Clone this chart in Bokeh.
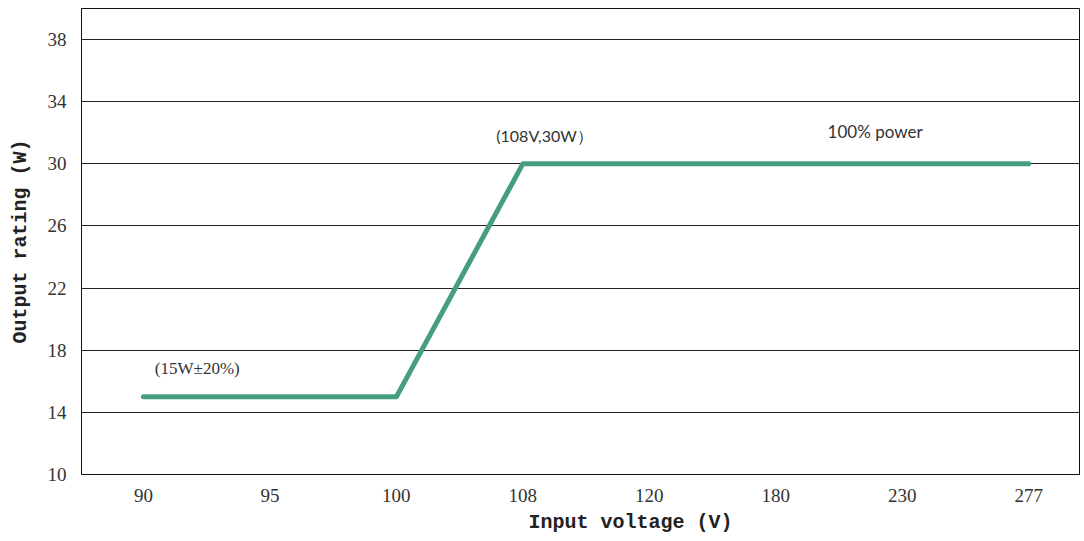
from bokeh.plotting import figure
from bokeh.models import FixedTicker, Label, Title, Range1d
from bokeh.embed import file_html
from bokeh.resources import INLINE

# ---- data ----
voltage_labels = ["90", "95", "100", "108", "120", "180", "230", "277"]
line_voltages = ["90", "100", "108", "277"]
line_power = [15, 15, 30, 30]
y_ticks = [10, 14, 18, 22, 26, 30, 34, 38]

x_pos = [voltage_labels.index(v) for v in line_voltages]

p = figure(frame_width=999, frame_height=466,
           x_range=Range1d(-0.49, 7.41), y_range=Range1d(10, 40),
           output_backend="svg", toolbar_location=None,
           min_border_left=81, min_border_top=8, min_border_right=0,
           min_border_bottom=0)

p.background_fill_color = "white"
p.border_fill_color = "white"
p.outline_line_color = "#111111"
p.outline_line_width = 1

# grid
p.xgrid.visible = False
p.ygrid.ticker = FixedTicker(ticks=y_ticks)
p.ygrid.grid_line_color = "#222222"
p.ygrid.grid_line_width = 1

# x axis
p.xaxis.ticker = FixedTicker(ticks=list(range(len(voltage_labels))))
p.xaxis.major_label_overrides = {i: lab for i, lab in enumerate(voltage_labels)}
p.xaxis.major_tick_out = 0
p.xaxis.major_tick_in = 0
p.xaxis.minor_tick_out = 0
p.xaxis.minor_tick_in = 0
p.xaxis.axis_line_color = "#111111"
p.xaxis.major_label_standoff = 14
p.xaxis.major_label_text_font = "Liberation Serif"
p.xaxis.major_label_text_font_size = "19px"
p.xaxis.major_label_text_color = "#333333"

# y axis
p.yaxis.ticker = FixedTicker(ticks=y_ticks)
p.yaxis.major_tick_out = 0
p.yaxis.major_tick_in = 0
p.yaxis.minor_tick_out = 0
p.yaxis.minor_tick_in = 0
p.yaxis.axis_line_color = "#111111"
p.yaxis.major_label_standoff = 15
p.yaxis.major_label_text_font = "Liberation Serif"
p.yaxis.major_label_text_font_size = "19px"
p.yaxis.major_label_text_color = "#333333"
p.yaxis.axis_label = "Output rating (W)"
p.yaxis.axis_label_text_font = "Liberation Mono"
p.yaxis.axis_label_text_font_size = "20px"
p.yaxis.axis_label_text_font_style = "bold"
p.yaxis.axis_label_text_color = "#222222"
p.yaxis.axis_label_standoff = 13

# x axis title (offset to the right as in the reference)
p.add_layout(Title(text="Input voltage (V)", align="left", offset=447,
                   text_font="Liberation Mono", text_font_size="20px",
                   text_font_style="bold", text_color="#222222",
                   standoff=9), "below")

# the curve
p.line(x_pos, line_power, line_color="#469e82", line_width=5,
       line_cap="round", line_join="round")

# annotations
p.add_layout(Label(x=0.09, y=16.8, text="(15W±20%)", text_font="Liberation Serif",
                   text_font_size="17px", text_baseline="middle", text_color="#333333"))
p.add_layout(Label(x=2.79, y=31.8, text="(108V,30W）", text_font="Lato",
                   text_font_size="16px", text_baseline="middle", text_color="#333333"))
p.add_layout(Label(x=5.41, y=32.1, text="100% power", text_font="Lato",
                   text_font_size="17px", text_baseline="middle", text_color="#333333"))

open("out.html", "w").write(file_html(p, INLINE))
